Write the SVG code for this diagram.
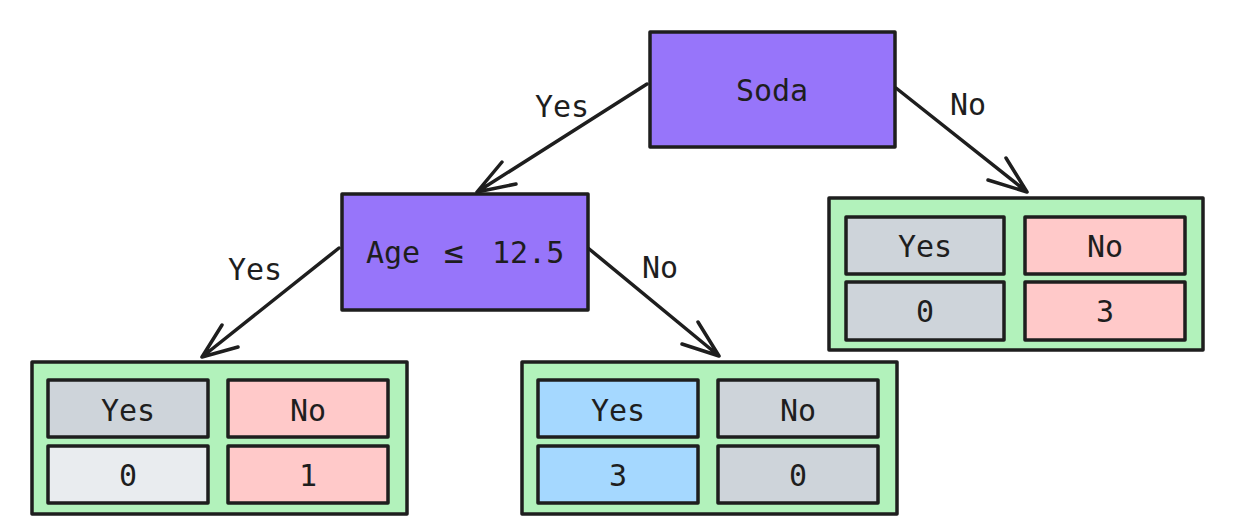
<svg xmlns="http://www.w3.org/2000/svg" width="1243" height="525" viewBox="0 0 1243 525">
<defs>
<style>
.box{stroke:#1e1e1e;stroke-width:3.5;stroke-linejoin:round}
.split{fill:#9775fa}
.leaf{fill:#b2f2bb}
.gray{fill:#ced4da}
.pink{fill:#ffc9c9}
.light{fill:#e9ecef}
.blue{fill:#a5d8ff}
.t{font-family:"DejaVu Sans Mono","Liberation Mono",monospace;font-size:30px;fill:#1e1e1e;text-anchor:middle}
.edge{stroke:#1e1e1e;stroke-width:3.5;fill:none;stroke-linecap:round;stroke-linejoin:round}
</style>
</defs>
<rect width="1243" height="525" fill="#ffffff"/>
<g id="connectors">
<path class="edge" d="M647 84 L477 192 M502 162 L477 192 L516 184"/>
<text class="t" x="562" y="117">Yes</text>
<path class="edge" d="M896 88 L1027 192 M1006 158 L1027 192 L988 180"/>
<text class="t" x="968" y="115">No</text>
<path class="edge" d="M339 248 L202 357 M222 325 L202 357 L238 347"/>
<text class="t" x="255" y="280">Yes</text>
<path class="edge" d="M588 248 L719 356 M698 322 L719 356 L682 344"/>
<text class="t" x="660" y="278">No</text>
</g>
<g id="node-soda">
<rect class="box split" x="650" y="32" width="245" height="115"/>
<text class="t" x="772" y="101">Soda</text>
</g>
<g id="node-age">
<rect class="box split" x="342" y="194" width="246" height="116"/>
<text class="t" x="465" y="263" text-anchor="start"><tspan x="366" text-anchor="start">Age</tspan><tspan x="444" text-anchor="start" font-size="33">≤</tspan><tspan x="492" text-anchor="start">12.5</tspan></text>
</g>
<g id="leaf-right">
<rect class="box leaf" x="829" y="198" width="374" height="152"/>
<rect class="box gray" x="846" y="217" width="158" height="57"/>
<text class="t" x="925" y="257">Yes</text>
<rect class="box pink" x="1025" y="217" width="160" height="57"/>
<text class="t" x="1105" y="257">No</text>
<rect class="box gray" x="846" y="282" width="158" height="58"/>
<text class="t" x="925" y="322">0</text>
<rect class="box pink" x="1025" y="282" width="160" height="58"/>
<text class="t" x="1105" y="322">3</text>
</g>
<g id="leaf-left">
<rect class="box leaf" x="32" y="362" width="375" height="152"/>
<rect class="box gray" x="48" y="380" width="160" height="57"/>
<text class="t" x="128" y="421">Yes</text>
<rect class="box pink" x="228" y="380" width="160" height="57"/>
<text class="t" x="308" y="421">No</text>
<rect class="box light" x="48" y="446" width="160" height="57"/>
<text class="t" x="128" y="486">0</text>
<rect class="box pink" x="228" y="446" width="160" height="57"/>
<text class="t" x="308" y="486">1</text>
</g>
<g id="leaf-middle">
<rect class="box leaf" x="522" y="362" width="375" height="152"/>
<rect class="box blue" x="538" y="380" width="160" height="57"/>
<text class="t" x="618" y="421">Yes</text>
<rect class="box gray" x="718" y="380" width="160" height="57"/>
<text class="t" x="798" y="421">No</text>
<rect class="box blue" x="538" y="446" width="160" height="57"/>
<text class="t" x="618" y="486">3</text>
<rect class="box gray" x="718" y="446" width="160" height="57"/>
<text class="t" x="798" y="486">0</text>
</g>
</svg>
